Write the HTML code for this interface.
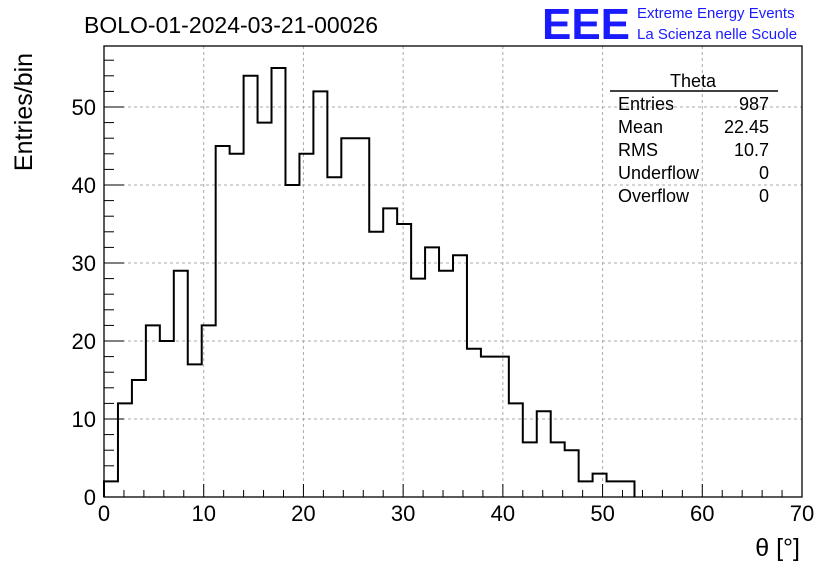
<!DOCTYPE html>
<html><head><meta charset="utf-8"><style>
body{margin:0;background:#fff;}
svg text{font-family:"Liberation Sans",sans-serif;}
</style></head><body>
<svg id="c" width="836" height="572" xmlns="http://www.w3.org/2000/svg">
<rect width="836" height="572" fill="#fff"/>
<text x="84" y="33" font-size="23">BOLO-01-2024-03-21-00026</text>
<g>
<text x="542" y="39" font-size="44" fill="#1a1aff" font-weight="bold" textLength="88" lengthAdjust="spacingAndGlyphs">EEE</text>
<text x="637" y="18" font-size="15" fill="#1a1aff">Extreme Energy Events</text>
<text x="637" y="39" font-size="15" fill="#1a1aff">La Scienza nelle Scuole</text>
</g>
<text transform="translate(32,112) rotate(-90)" font-size="25" text-anchor="middle">Entries/bin</text>
<text x="800" y="556" font-size="25" text-anchor="end">θ [°]</text>
<g id="grid"></g><g id="ticks"></g>
<path id="hist" fill="none" stroke="#000" stroke-width="2"/>
<rect x="104" y="46" width="698" height="451" fill="none" stroke="#000" stroke-width="1.3"/>
<g font-size="18">
<text x="693" y="87" text-anchor="middle">Theta</text>
<line x1="610" y1="91" x2="778" y2="91" stroke="#000" stroke-width="1.5"/>
<text x="618" y="110">Entries</text><text x="769" y="110" text-anchor="end">987</text>
<text x="618" y="133">Mean</text><text x="769" y="133" text-anchor="end">22.45</text>
<text x="618" y="156">RMS</text><text x="769" y="156" text-anchor="end">10.7</text>
<text x="618" y="179">Underflow</text><text x="769" y="179" text-anchor="end">0</text>
<text x="618" y="202">Overflow</text><text x="769" y="202" text-anchor="end">0</text>
</g>
</svg>
<script>
const counts=[2,12,15,22,20,29,17,22,45,44,54,48,55,40,44,52,41,46,46,34,37,35,28,32,29,31,19,18,18,12,7,11,7,6,2,3,2,2];
const binWidth=1.4;
const xTicks=[0,10,20,30,40,50,60,70];
const yTicks=[0,10,20,30,40,50];
const X0=104,X1=802,Y0=497,YT=46;
const xs=v=>X0+(v/70)*(X1-X0);
const ys=v=>Y0-v*7.8;
const NS="http://www.w3.org/2000/svg";
const grid=document.getElementById('grid'),ticks=document.getElementById('ticks');
function mk(tag,at,parent){const e=document.createElementNS(NS,tag);for(const k in at)e.setAttribute(k,at[k]);parent.appendChild(e);return e;}
xTicks.forEach(t=>{
 const x=xs(t);
 if(t>0&&t<70){const g=mk('line',{x1:x,x2:x,y1:YT,y2:Y0,stroke:'#aaa','stroke-dasharray':'3,3'},grid);
 
 }
 mk('line',{x1:x,x2:x,y1:Y0,y2:Y0-13,stroke:'#000'},ticks);
 const l=mk('text',{x:x,y:Y0+24,'font-size':22,'text-anchor':'middle'},ticks);l.textContent=t;
 
 
 if(t<70)for(let m=1;m<5;m++){const xm=xs(t+m*2);mk('line',{x1:xm,x2:xm,y1:Y0,y2:Y0-(m==0?13:7),stroke:'#000'},ticks);}
});
for(let v=0;v<=57.5;v+=2){const y=ys(v);mk('line',{x1:X0,x2:X0+(v%10==0?20:10),y1:y,y2:y,stroke:'#000'},ticks);}
yTicks.forEach(t=>{
 const y=ys(t);
 if(t>0){const g=mk('line',{x1:X0,x2:X1,y1:y,y2:y,stroke:'#aaa','stroke-dasharray':'3,3'},grid);
 
 }
 const l=mk('text',{x:X0-8,y:y+8,'font-size':22,'text-anchor':'end'},ticks);l.textContent=t;
 
 
});
let d='M'+xs(0)+','+ys(0);
counts.forEach((c,i)=>{d+=' L'+xs(i*binWidth)+','+ys(c)+' L'+xs((i+1)*binWidth)+','+ys(c);});
d+=' L'+xs(counts.length*binWidth)+','+ys(0);
document.getElementById('hist').setAttribute('d',d);
</script>
</body></html>
